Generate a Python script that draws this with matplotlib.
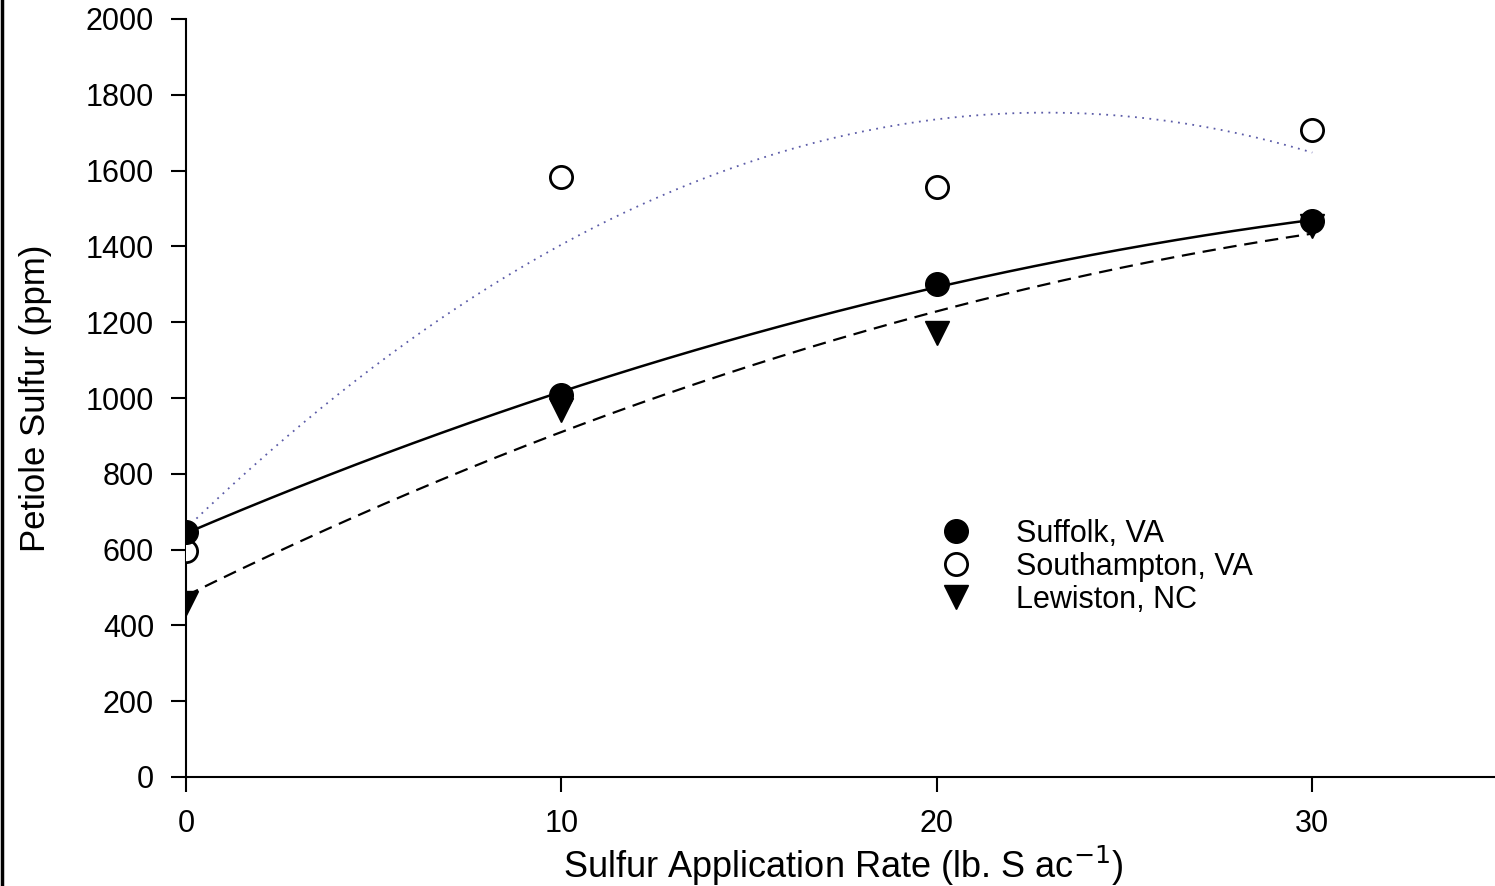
import numpy as np
import matplotlib
matplotlib.use("Agg")
import matplotlib.pyplot as plt
from matplotlib.lines import Line2D

plt.rcParams['font.family'] = ['Liberation Sans', 'DejaVu Sans']

rates = [0, 10, 20, 30]
suffolk = [646, 1008, 1301, 1467]
southampton = [596, 1583, 1557, 1707]
lewiston = [459, 968, 1171, 1453]
series_names = ["Suffolk, VA", "Southampton, VA", "Lewiston, NC"]
yticks = [0, 200, 400, 600, 800, 1000, 1200, 1400, 1600, 1800, 2000]
xticks = [0, 10, 20, 30]

fig = plt.figure(figsize=(14.95, 8.86), dpi=100)
ax_left, ax_width = 186/1495, 1314/1495
ax = fig.add_axes([ax_left, 109/886, ax_width, 758/886])
ax.set_xlim(0, 35)
ax.set_ylim(0, 2000)

xs = np.linspace(0, 30, 200)
x_arr = np.array(rates, dtype=float)

# quadratic regression curves
c_s = np.polyfit(x_arr, suffolk, 2)
c_h = np.polyfit(x_arr, southampton, 2)
c_l = np.polyfit(x_arr, lewiston, 2)
ax.plot(xs, np.polyval(c_s, xs), color='black', lw=1.8, ls='-', zorder=2)
ax.plot(xs, np.polyval(c_h, xs), color='#5c5ca8', lw=1.3, ls=(0, (1, 3)), zorder=2)
ax.plot(xs, np.polyval(c_l, xs), color='black', lw=1.6, ls=(0, (6, 3.5)), zorder=2)

ms = 17
ax.plot(rates, lewiston, 'v', color='black', ms=ms, ls='none', zorder=3, label=series_names[2])
ax.plot(rates, southampton, 'o', mfc='white', mec='black', mew=2, ms=ms - 1, ls='none', zorder=3, label=series_names[1])
ax.plot(rates, suffolk, 'o', color='black', ms=ms, ls='none', zorder=4, label=series_names[0])

handles, labels = ax.get_legend_handles_labels()
order = [2, 1, 0]
ax.legend([handles[i] for i in order], [labels[i] for i in order],
          loc='upper left', bbox_to_anchor=(0.548, 0.377), frameon=False,
          fontsize=22, handletextpad=1.2, labelspacing=0.1, handlelength=1.5)

ax.spines['top'].set_visible(False)
ax.spines['right'].set_visible(False)
ax.spines['left'].set_linewidth(1.5)
ax.spines['bottom'].set_linewidth(1.5)
ax.set_xticks(xticks)
ax.set_yticks(yticks)
ax.tick_params(axis='both', direction='out', length=11, width=1.5, labelsize=22, colors='black')
ax.tick_params(axis='y', pad=12)
ax.tick_params(axis='x', pad=12)

fig.text(843/1495, 8/886, "Sulfur Application Rate (lb. S ac$^{-1}$)", fontsize=26,
         ha='center', va='baseline')
ax.set_ylabel("Petiole Sulfur (ppm)", fontsize=25, labelpad=24)

fig.add_artist(Line2D([0.0012, 0.0012], [0, 1], color='black', lw=2.5, transform=fig.transFigure))

fig.savefig("out.png", dpi=100)
